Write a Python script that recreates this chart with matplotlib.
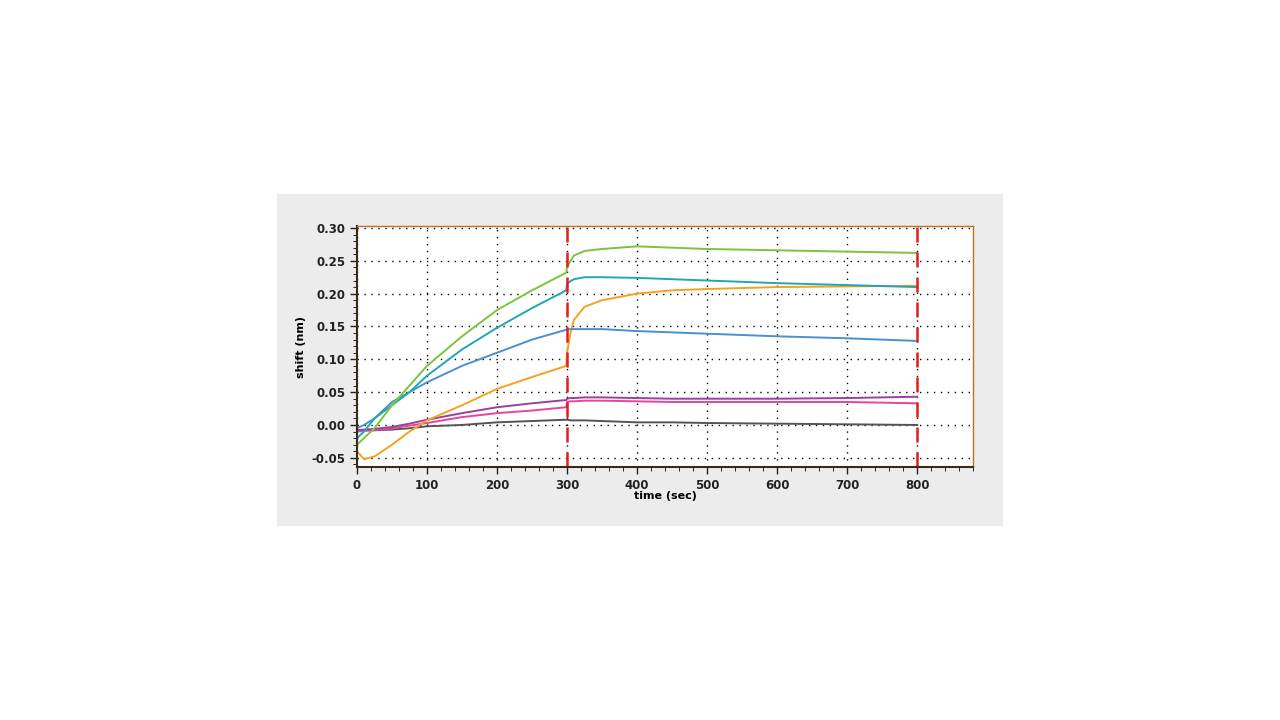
import matplotlib
matplotlib.use("Agg")
import matplotlib.pyplot as plt
from matplotlib.ticker import MultipleLocator, FormatStrFormatter

# Sampled sensorgram values (time in sec, shift in nm)
T = [0, 10, 25, 50, 75, 100, 150, 200, 250, 299, 300, 305, 310, 325, 350, 400, 450, 500, 600, 700, 800]

GREEN = [-0.030, -0.020, -0.005, 0.030, 0.060, 0.090, 0.135, 0.175, 0.205, 0.232, 0.240, 0.250, 0.258, 0.265, 0.268, 0.272, 0.270, 0.268, 0.266, 0.264, 0.262]
TEAL = [-0.020, -0.010, 0.010, 0.030, 0.050, 0.075, 0.115, 0.148, 0.178, 0.205, 0.215, 0.219, 0.222, 0.225, 0.225, 0.224, 0.222, 0.220, 0.216, 0.213, 0.210]
BLUE = [-0.005, 0.000, 0.010, 0.035, 0.050, 0.065, 0.090, 0.110, 0.130, 0.145, 0.145, 0.146, 0.146, 0.146, 0.146, 0.143, 0.141, 0.139, 0.135, 0.132, 0.128]
ORANGE = [-0.040, -0.052, -0.048, -0.030, -0.010, 0.007, 0.030, 0.055, 0.073, 0.090, 0.110, 0.140, 0.160, 0.180, 0.190, 0.200, 0.205, 0.207, 0.210, 0.211, 0.212]
PURPLE = [-0.008, -0.007, -0.006, -0.003, 0.002, 0.008, 0.018, 0.027, 0.033, 0.038, 0.040, 0.041, 0.041, 0.042, 0.042, 0.041, 0.040, 0.040, 0.040, 0.041, 0.043]
PINK = [-0.010, -0.009, -0.008, -0.005, -0.001, 0.003, 0.012, 0.018, 0.022, 0.027, 0.035, 0.036, 0.036, 0.037, 0.037, 0.036, 0.035, 0.035, 0.035, 0.035, 0.033]
GRAY = [-0.008, -0.008, -0.008, -0.007, -0.005, -0.002, 0.000, 0.004, 0.006, 0.008, 0.008, 0.007, 0.007, 0.007, 0.006, 0.004, 0.004, 0.003, 0.002, 0.001, 0.000]

SERIES = [
    (GRAY, "#555555"),
    (PINK, "#e8459a"),
    (PURPLE, "#9b3fa0"),
    (ORANGE, "#f5a21f"),
    (BLUE, "#4a90d0"),
    (TEAL, "#22a6b3"),
    (GREEN, "#7cc43a"),
]
STEP_TIMES = [300, 800]

fig = plt.figure(figsize=(12.8, 7.2), dpi=100)

# grey panel behind the chart
bg = fig.add_axes([277 / 1280, 1 - 526 / 720, 726 / 1280, 332 / 720], zorder=-1)
bg.set_facecolor("#ececec")
bg.set_xticks([])
bg.set_yticks([])
for s in bg.spines.values():
    s.set_visible(False)

ax = fig.add_axes([357 / 1280, 1 - 467 / 720, 616 / 1280, 241 / 720], zorder=1)
ax.set_facecolor("white")

for values, color in SERIES:
    ax.plot(T, values, color=color, linewidth=1.4)
for t in STEP_TIMES:
    ax.axvline(t, color="#e02020", linestyle=(0, (6, 4)), linewidth=1.8)

ax.set_xlim(0, 880)
ax.set_ylim(-0.064, 0.303)
ax.set_xticks([0, 100, 200, 300, 400, 500, 600, 700, 800])
ax.set_yticks([-0.05, 0.0, 0.05, 0.10, 0.15, 0.20, 0.25, 0.30])
ax.yaxis.set_major_formatter(FormatStrFormatter("%.2f"))
ax.xaxis.set_minor_locator(MultipleLocator(20))
ax.yaxis.set_minor_locator(MultipleLocator(0.01))
ax.grid(True, which="major", color="black", linestyle=(0, (1, 4)), linewidth=1)
ax.tick_params(labelsize=8.5, length=5, width=1, colors="#222222")
ax.tick_params(which="minor", length=3)
for lbl in ax.get_xticklabels() + ax.get_yticklabels():
    lbl.set_fontweight("bold")
for side in ("left", "bottom"):
    ax.spines[side].set_color("#3a2a1a")
    ax.spines[side].set_linewidth(1.5)
for side in ("top", "right"):
    ax.spines[side].set_color("#c07020")
    ax.spines[side].set_linewidth(1)

ax.set_xlabel("time (sec)", fontsize=8, fontweight="bold")
ax.xaxis.set_label_coords(0.5, -0.1)
ax.set_ylabel("shift (nm)", fontsize=8, fontweight="bold")

fig.savefig("out.png", dpi=100)
